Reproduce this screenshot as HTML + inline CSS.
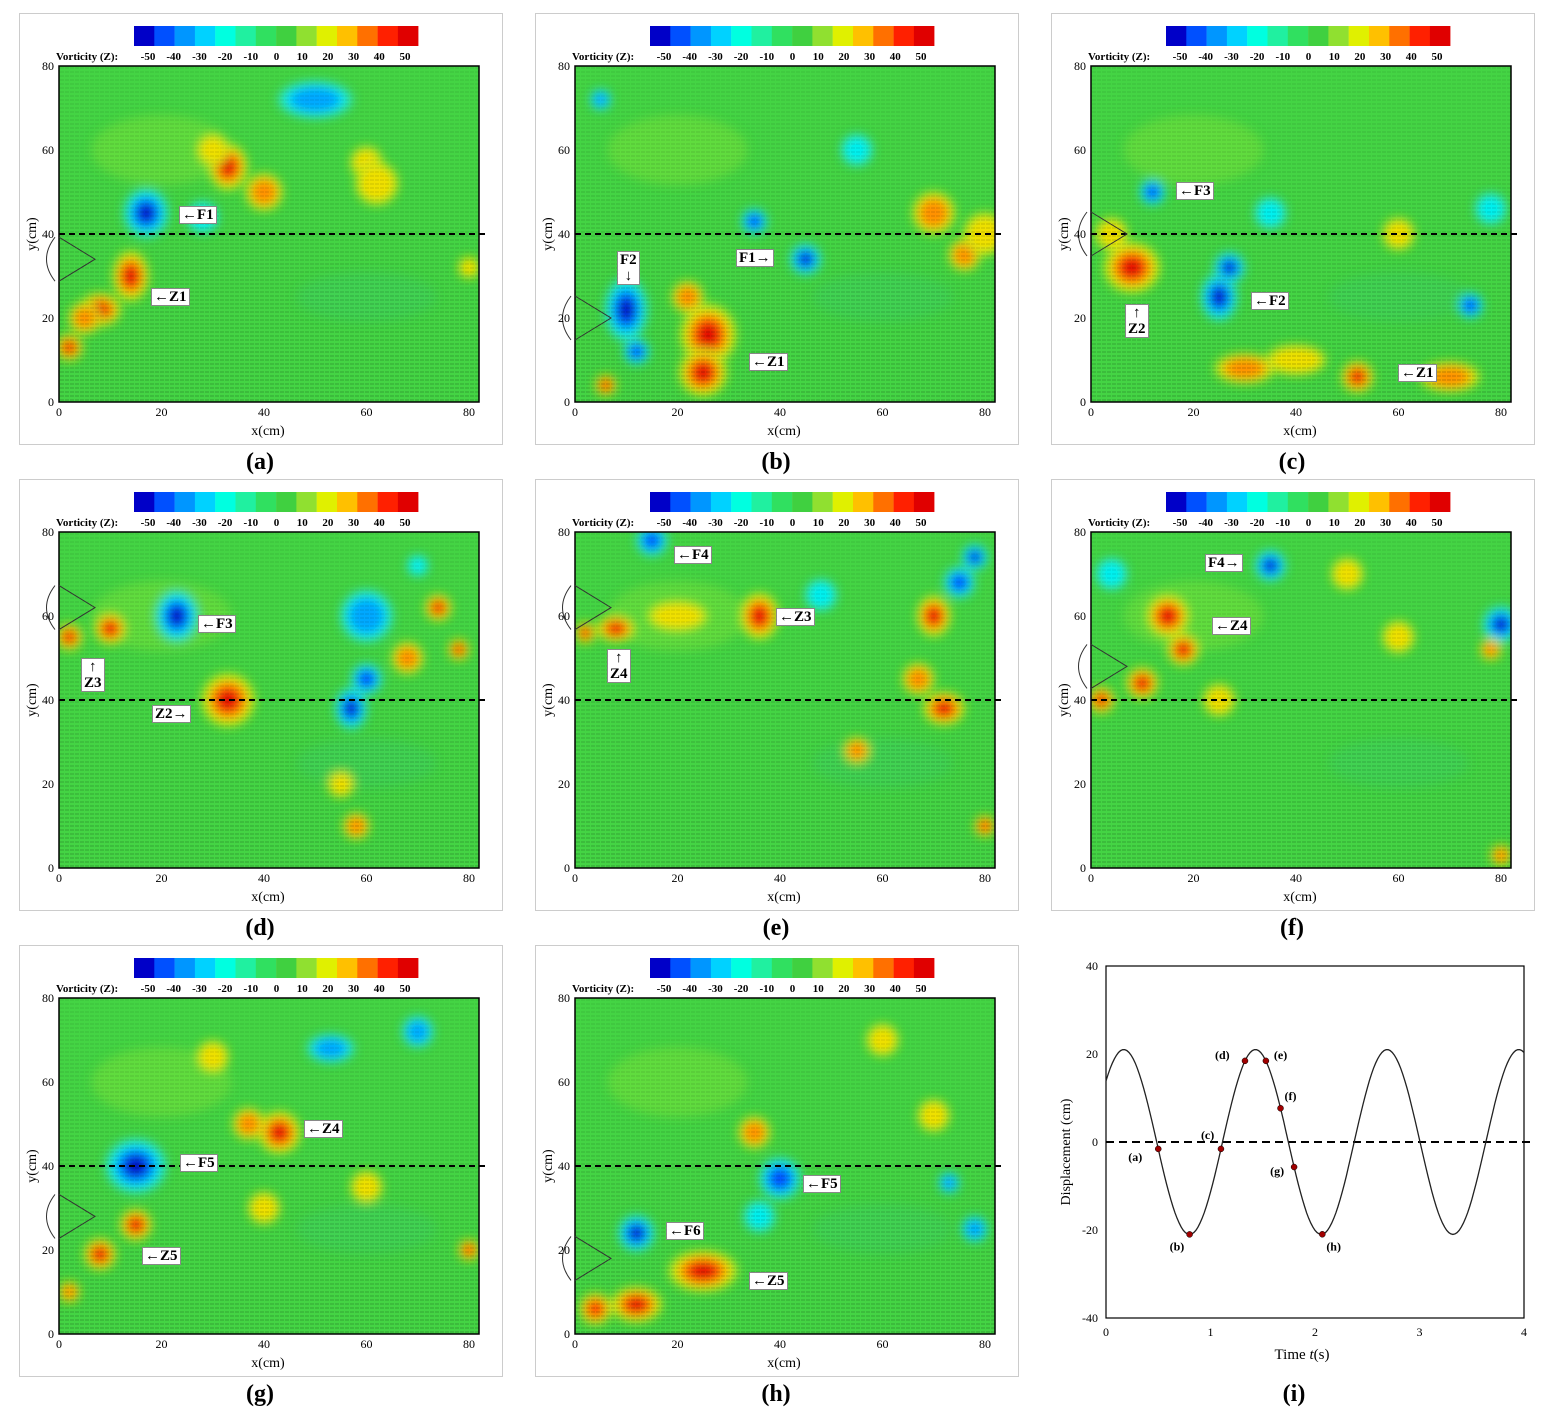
<!DOCTYPE html>
<html><head><meta charset="utf-8">
<style>
body{margin:0;background:#fff;width:1556px;height:1413px;position:relative;overflow:hidden;font-family:"Liberation Serif",serif}
.pan{position:absolute;width:482px;height:430px;border:1px solid #ccc;background:#fff}
.cap{position:absolute;font:bold 24px "Liberation Serif",serif;width:60px;text-align:center}
.lab{position:absolute;background:#fff;font:bold 15px "Liberation Serif",serif;padding:0 2px;line-height:16px;text-align:center;border:1px solid #888}
</style></head><body>
<div id="root"></div>
<svg id="isvg" width="1556" height="1413" style="position:absolute;left:0;top:0" xmlns="http://www.w3.org/2000/svg"></svg>
<script>
const cols=['#0000c8','#0050ff','#0096ff','#00d2ff','#00ffe0','#20f0a0','#30e060','#40d040','#90e030','#e0f000','#ffc000','#ff7000','#ff2000','#e00000'];
const origins=[[19,13],[535,13],[1051,13],[19,479],[535,479],[1051,479],[19,945],[535,945]];
const B={
0:[[17,45,4.5,-1,1.1],[14,30,4,1,1.4],[8,22,3.5,1,.8],[2,13,2.5,1],[33,56,4,1,1.2],[40,50,3.5,.6],[50,72,5,-.5,.5],[60,57,3,.4],[28,44,3,-.4],[80,32,2,.4],[62,52,4,.3],[30,60,3,.4],[5,20,3,.5]],
1:[[10,22,5,-1,1.5],[12,12,2.5,-.7],[26,16,5.5,1,1.1],[25,7,4.5,1],[45,34,3,-1],[35,43,2.5,-.8],[6,4,2,1],[70,45,4,.6],[76,35,3,.5],[5,72,2,-.5],[22,25,3,.5],[80,40,4,.4],[55,60,3,-.3]],
2:[[8,32,5,1,.9],[25,25,4,-1,1.3],[27,32,3,-1],[12,50,2.5,-.8],[52,6,3,1],[30,8,4,.5,.5],[70,6,4,.5,.5],[74,23,2.5,-.8],[4,40,3,.4],[40,10,4,.4,.5],[60,40,3,.3],[78,46,3,-.4],[35,45,3,-.3]],
3:[[33,40,5,1],[23,60,4.5,-1,1.2],[10,57,3,1],[2,55,2.5,1],[57,38,3.5,-1,1.3],[60,45,3,-.7],[74,62,2.5,1],[78,52,2,1],[58,10,2.5,.6],[60,60,5,-.5],[70,72,2,-.4],[68,50,3,.5],[55,20,2.5,.4]],
4:[[8,57,3,1,.7],[2,56,2,1],[36,60,4,1,1.2],[15,78,3,-.7],[70,60,3.5,1,1.2],[72,38,3.5,1,.8],[67,45,3,.6],[78,74,2.5,-.9],[55,28,2.5,.5],[80,10,2,.8],[20,60,4,.4,.5],[48,65,3,-.4],[75,68,3,-.8]],
5:[[15,60,4,1],[18,52,3,1],[10,44,3,1],[2,40,2.5,1],[35,72,3,-1],[80,58,3.5,-1],[78,52,2,.5],[4,70,3,-.4],[80,3,2,.6],[25,40,3,.4],[60,55,3,.4],[50,70,3,.3]],
6:[[15,40,5.5,-1,.9],[43,48,4,1],[37,50,3,.6],[15,26,3,1],[8,19,3,1],[53,68,3.5,-.6,.6],[70,72,3,-.6],[80,20,2,.8],[2,10,2,.6],[30,66,3,.4],[60,35,3,.3],[40,30,3,.3]],
7:[[12,24,3.5,-1],[25,15,5,1,.6],[12,7,4,1,.7],[4,6,3,.7],[40,37,4,-.7],[35,48,3,.5],[73,36,2,-.6],[70,52,3,.4],[36,28,3,-.4],[78,25,2.5,-.5],[60,70,3,.3]]};
const labs={
0:[[159,192,'←F1'],[131,274,'←Z1']],
1:[[81,237,'F2<br>↓'],[200,235,'F1→'],[213,339,'←Z1']],
2:[[124,168,'←F3'],[199,278,'←F2'],[73,290,'↑<br>Z2'],[346,350,'←Z1']],
3:[[178,135,'←F3'],[61,178,'↑<br>Z3'],[132,225,'Z2→']],
4:[[138,66,'←F4'],[240,128,'←Z3'],[71,169,'↑<br>Z4']],
5:[[153,74,'F4→'],[160,137,'←Z4']],
6:[[284,174,'←Z4'],[160,208,'←F5'],[122,301,'←Z5']],
7:[[267,229,'←F5'],[130,276,'←F6'],[213,326,'←Z5']]};
const tri=[34,20,40,62,62,48,28,18];
const capsN='abcdefgh';
let h='';
origins.forEach((o,i)=>{
 const X=x=>39+x*5.125, Y=y=>388-y*4.2;
 let s=`<div class="pan" style="left:${o[0]}px;top:${o[1]}px"><svg width="482" height="430" font-family="Liberation Serif" font-size="12">`;
 s+=`<defs><filter id="f${i}" x="-20%" y="-20%" width="140%" height="140%"><feGaussianBlur stdDeviation="5"/></filter><clipPath id="c${i}"><rect x="39" y="52" width="420" height="336"/></clipPath><pattern id="p${i}" width="5" height="4" patternUnits="userSpaceOnUse"><line x1="0" y1="2" x2="4" y2="2" stroke="#000" stroke-width="0.6" opacity="0.4"/></pattern><linearGradient id="g${i}" x1="0" y1="0" x2="0" y2="1"><stop offset="0" stop-color="#fff" stop-opacity=".4"/><stop offset="1" stop-color="#fff" stop-opacity="1"/></linearGradient><mask id="m${i}"><rect x="39" y="52" width="420" height="336" fill="url(#g${i})"/></mask></defs>`;
 cols.forEach((c,k)=>s+=`<rect x="${114+k*20.3}" y="12" width="20.5" height="20" fill="${c}"/>`);
 s+=`<text x="36" y="46" font-size="11" font-weight="bold">Vorticity (Z):</text>`;
 [-50,-40,-30,-20,-10,0,10,20,30,40,50].forEach((v,k)=>s+=`<text x="${128+k*25.7}" y="46" font-size="11" font-weight="bold" text-anchor="middle">${v}</text>`);
 s+=`<g clip-path="url(#c${i})"><rect x="39" y="52" width="420" height="336" fill="#44d444"/><g filter="url(#f${i})">`;
 s+=`<ellipse cx="${X(20)}" cy="${Y(60)}" rx="70" ry="35" fill="#7ce43a" opacity=".5"/><ellipse cx="${X(60)}" cy="${Y(25)}" rx="70" ry="25" fill="#3cd060" opacity=".5"/>`;
 B[i].forEach(b=>{const cx=X(b[0]),cy=Y(b[1]),r=b[2]*5.4,a=Math.abs(b[3]),asp=b[4]||1;
  const seq=b[3]>0?['#b0ec20','#f0e000','#ff9000','#ff3000','#e00000']:['#30e0a0','#00f0f0','#00a8ff','#0050ff','#0000c0'];
  const n=Math.max(1,Math.round(a*5));
  for(let k=0;k<n;k++){const rr=r*(1-k*0.17);s+=`<ellipse cx="${cx}" cy="${cy}" rx="${rr/Math.sqrt(asp)}" ry="${rr*Math.sqrt(asp)}" fill="${seq[k]}"/>`;}
 });
 s+=`</g><rect x="39" y="52" width="420" height="336" fill="url(#p${i})" mask="url(#m${i})"/></g>`;
 s+=`<rect x="39" y="52" width="420" height="336" fill="none" stroke="#000" stroke-width="1.5"/>`;
 s+=`<line x1="39" y1="${Y(40)}" x2="466" y2="${Y(40)}" stroke="#000" stroke-width="2" stroke-dasharray="6,4"/>`;
 const ty=Y(tri[i]);
 s+=`<polyline points="39,${ty-22} 75,${ty} 39,${ty+22}" fill="none" stroke="#333" stroke-width="1"/><path d="M35,${ty-22} Q18,${ty} 35,${ty+22}" fill="none" stroke="#333"/>`;
 [0,20,40,60,80].forEach(v=>{s+=`<text x="${X(v)}" y="402" text-anchor="middle">${v}</text><text x="34" y="${Y(v)+4}" text-anchor="end">${v}</text>`;});
 s+=`<text x="248" y="421" text-anchor="middle" font-size="14">x(cm)</text><text transform="translate(16,220) rotate(-90)" text-anchor="middle" font-size="14">y(cm)</text>`;
 s+=`</svg>`;
 labs[i].forEach(l=>s+=`<div class="lab" style="left:${l[0]}px;top:${l[1]}px">${l[2]}</div>`);
 s+=`</div><div class="cap" style="left:${o[0]+211}px;top:${o[1]+436}px">(${capsN[i]})</div>`;
 h+=s;
});
h+=`<div class="cap" style="left:1264px;top:1381px">(i)</div>`;
document.getElementById('root').innerHTML=h;
const px=t=>1106+t*104.5, py=d=>1142-d*4.4;
let g=`<rect x="1106" y="966" width="418" height="352" fill="none" stroke="#000" stroke-width="1.2"/>`;
[40,20,0,-20,-40].forEach(v=>g+=`<text x="1098" y="${py(v)+4}" text-anchor="end" font-size="12" font-family="Liberation Serif">${v}</text>`);
[0,1,2,3,4].forEach(v=>g+=`<text x="${px(v)}" y="1336" text-anchor="middle" font-size="12" font-family="Liberation Serif">${v}</text>`);
g+=`<line x1="1106" y1="1142" x2="1532" y2="1142" stroke="#000" stroke-width="2" stroke-dasharray="8,5"/>`;
const f=t=>21*Math.cos(2*Math.PI*(t-0.17)/1.26);
let d='';for(let t=0;t<=4.001;t+=0.02)d+=(d?'L':'M')+px(t).toFixed(1)+','+py(f(t)).toFixed(1);
g+=`<path d="${d}" fill="none" stroke="#222" stroke-width="1.3"/>`;
[[0.5,'(a)',-30,12],[0.8,'(b)',-20,16],[1.1,'(c)',-20,-10],[1.33,'(d)',-30,-2],[1.53,'(e)',8,-2],[1.67,'(f)',4,-8],[1.8,'(g)',-24,8],[2.07,'(h)',4,16]].forEach(p=>{const x=px(p[0]),y=py(f(p[0]));g+=`<circle cx="${x}" cy="${y}" r="3" fill="#a00000" stroke="#000" stroke-width=".5"/><text x="${x+p[2]}" y="${y+p[3]}" font-size="12" font-weight="bold" font-family="Liberation Serif">${p[1]}</text>`;});
g+=`<text x="1302" y="1359" text-anchor="middle" font-size="15" font-family="Liberation Serif">Time <tspan font-style="italic">t</tspan>(s)</text>`;
g+=`<text transform="translate(1070,1152) rotate(-90)" text-anchor="middle" font-size="14" font-family="Liberation Serif">Displacement (cm)</text>`;
document.getElementById('isvg').innerHTML=g;
</script>
</body></html>
